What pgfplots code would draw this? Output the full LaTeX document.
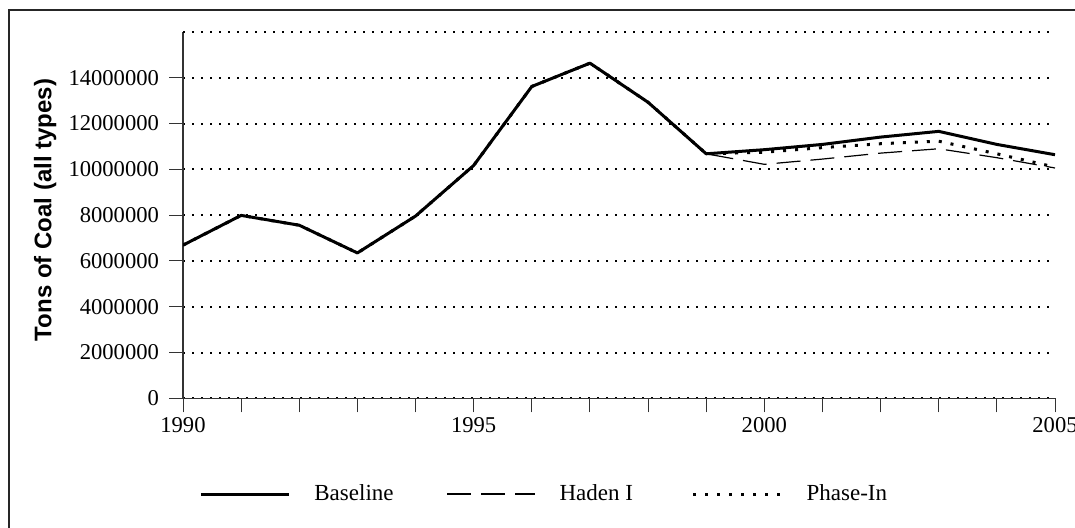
\documentclass[border=0pt]{standalone}
\usepackage{pgfplots}
\pgfplotsset{compat=1.18}
\usepackage{fontspec}
\setmainfont{Liberation Serif}
\newfontfamily\arialfont{Liberation Sans}
\begin{document}
\begin{tikzpicture}
\useasboundingbox (0,0) rectangle (537.5pt,263.5pt);
\draw[line width=1pt, black!85] (4.5pt,-20pt) -- (4.5pt,258.5pt) -- (600pt,258.5pt);
\begin{axis}[
  at={(91.5pt,64.35pt)}, anchor=south west,
  scale only axis, width=436pt, height=183.15pt,
  xmin=1990, xmax=2005, ymin=0, ymax=16000000,
  axis lines*=left,
  axis line style={line width=0.6pt, black!80},
  xtick={1990,1995,2000,2005},
  minor xtick={1991,1992,1993,1994,1996,1997,1998,1999,2001,2002,2003,2004},
  ytick={0,2000000,4000000,6000000,8000000,10000000,12000000,14000000},
  extra y ticks={16000000}, extra y tick labels={},
  extra y tick style={major tick length=0pt, ymajorgrids=true},
  ymajorgrids,
  major grid style={black, line width=1pt, dash pattern=on 1pt off 3.5pt},
  tick align=outside, major tick length=7pt, minor tick length=7pt,
  tick style={black!80, line width=0.5pt},
  scaled y ticks=false,
  /pgf/number format/.cd, fixed, precision=0, 1000 sep={}, assume math mode=true,
  /pgfplots/.cd,
  ticklabel style={font=\fontsize{11.3}{13}\selectfont},
  yticklabel style={xshift=-1.5pt},
  xticklabel style={yshift=1pt},
  ylabel={Tons of Coal (all types)},
  ylabel style={font=\arialfont\bfseries\fontsize{12}{14}\selectfont, at={(axis description cs:-0.158,0.514)}, anchor=center},
  legend columns=3,
  legend image code/.code={\draw[#1] (0pt,0pt) -- (44pt,0pt);},
  legend style={draw=none, fill=none, inner sep=0pt, at={(axis description cs:0.01835,-0.2613)}, anchor=west,
    font=\fontsize{11.5}{13}\selectfont,
    /tikz/every odd column/.append style={column sep=10pt},
    /tikz/every even column/.append style={column sep=23pt}},
  every axis plot/.append style={line join=round},
]
\addplot[black, line width=1.5pt] coordinates {
(1990,6690000) (1991,7990000) (1992,7560000) (1993,6350000) (1994,7960000)
(1995,10170000) (1996,13620000) (1997,14640000) (1998,12930000) (1999,10680000)
(2000,10860000) (2001,11090000) (2002,11410000) (2003,11660000) (2004,11090000) (2005,10640000)};
\addlegendentry{\makebox[41pt][l]{Baseline}}
\addplot[black, line width=0.6pt, dash pattern=on 12pt off 5pt] coordinates {
(1990,6690000) (1991,7990000) (1992,7560000) (1993,6350000) (1994,7960000)
(1995,10170000) (1996,13660000) (1997,14600000) (1998,12930000) (1999,10680000)
(2000,10220000) (2001,10450000) (2002,10710000) (2003,10900000) (2004,10510000) (2005,10060000)};
\addlegendentry{\makebox[41pt][l]{Haden I}}
\addplot[black, line width=1.5pt, dash pattern=on 1.5pt off 4.5pt] coordinates {
(1990,6690000) (1991,7990000) (1992,7560000) (1993,6350000) (1994,7960000)
(1995,10170000) (1996,13620000) (1997,14640000) (1998,12930000) (1999,10680000)
(2000,10750000) (2001,10950000) (2002,11120000) (2003,11230000) (2004,10680000) (2005,10100000)};
\addlegendentry{\makebox[41pt][l]{Phase-In}}
\end{axis}
\end{tikzpicture}
\end{document}
